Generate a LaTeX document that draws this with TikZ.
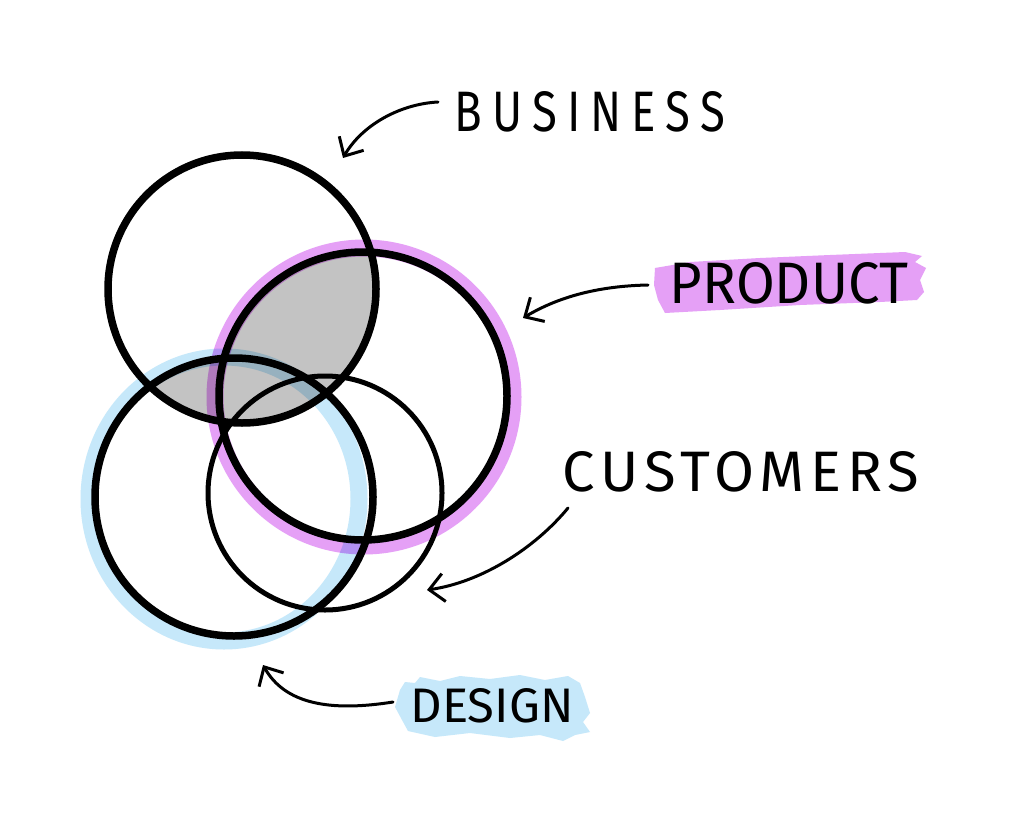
\documentclass[tikz,border=0pt]{standalone}
\usepackage{fontspec}
\usepackage{graphicx}
\setmainfont{Fira Sans}
\newfontfamily\handwide[LetterSpace=22]{Fira Sans}
\newfontfamily\handmid[LetterSpace=10]{Fira Sans}
\usetikzlibrary{arrows.meta}
\newlength\px \setlength\px{0.025cm}
\definecolor{pinkhl}{RGB}{229,160,246}
\definecolor{bluehl}{RGB}{198,232,250}
\begin{document}
\begin{tikzpicture}[x=0.025cm,y=-0.025cm,
  ring/.style={line width=7.5\px},
  thinring/.style={line width=5\px},
  hlring/.style={line width=17\px},
  arr/.style={line width=3\px, line cap=round, line join=round,
    -{Straight Barb[length=10.5pt,width=20pt]}},
  lbl/.style={inner sep=0pt, anchor=center}]
\useasboundingbox[fill=white] (0,0) rectangle (1024,814);

% centres
\coordinate (cB) at (242,289);
\coordinate (cP) at (363,396);
\coordinate (cD) at (234,497);
\coordinate (cC) at (325,493);

% label highlights
\fill[pinkhl] (655,268) -- (690,262) -- (760,258) -- (830,255) -- (905,252) -- (922,256)
  -- (915,262) -- (926,268) -- (920,280) -- (924,292) -- (917,300) -- (880,302)
  -- (800,305) -- (720,310) -- (665,313) -- (658,300) -- (654,285) -- cycle;
\fill[bluehl] (400,690) -- (405,682) -- (415,683) -- (420,677) -- (440,681) -- (460,676)
  -- (490,679) -- (520,675) -- (545,680) -- (568,676) -- (580,683) -- (585,697)
  -- (590,713) -- (583,722) -- (590,732) -- (575,735) -- (563,741) -- (540,735)
  -- (510,738) -- (470,733) -- (435,737) -- (408,731) -- (402,720) -- (395,707) -- cycle;

% coloured rings
\begin{scope}[blend mode=multiply]
  \draw[hlring, pinkhl] (364,397) circle (149);
  \draw[hlring, bluehl] (224,499) ellipse (135 and 142);
\end{scope}

% grey overlap: Business with (Product or Design)
\begin{scope}
  \clip (cB) circle (134);
  \fill[black, fill opacity=0.235] (cP) circle (144) (cD) circle (139);
\end{scope}

% black circles
\draw[ring] (cB) circle (134);
\draw[ring] (cP) circle (144);
\draw[ring] (cD) circle (139);
\draw[thinring] (cC) circle (117);

% labels
\node[lbl] (nB) at (590,112) {\resizebox{270\px}{40\px}{\handwide BUSINESS}};
\node[lbl] (nP) at (789,283) {\resizebox{238\px}{41\px}{PRODUCT}};
\node[lbl] (nC) at (741,472) {\resizebox{356\px}{40\px}{\handmid CUSTOMERS}};
\node[lbl] (nD) at (492,706) {\resizebox{163\px}{34\px}{DESIGN}};

% arrow ends
\coordinate (aB) at (438,102); \coordinate (tB) at (343,158);
\coordinate (aP) at (648,285); \coordinate (tP) at (523,318);
\coordinate (aC) at (568,508); \coordinate (tC) at (427,590);
\coordinate (aD) at (393,702); \coordinate (tD) at (263,665);

\draw[arr] (aB) .. controls (400,104) and (362,125) .. (tB);
\draw[arr] (aP) .. controls (600,286) and (560,296) .. (tP);
\draw[arr] (aC) .. controls (535,548) and (482,582) .. (tC);
\draw[arr] (aD) .. controls (330,712) and (285,704) .. (tD);
\end{tikzpicture}
\end{document}
